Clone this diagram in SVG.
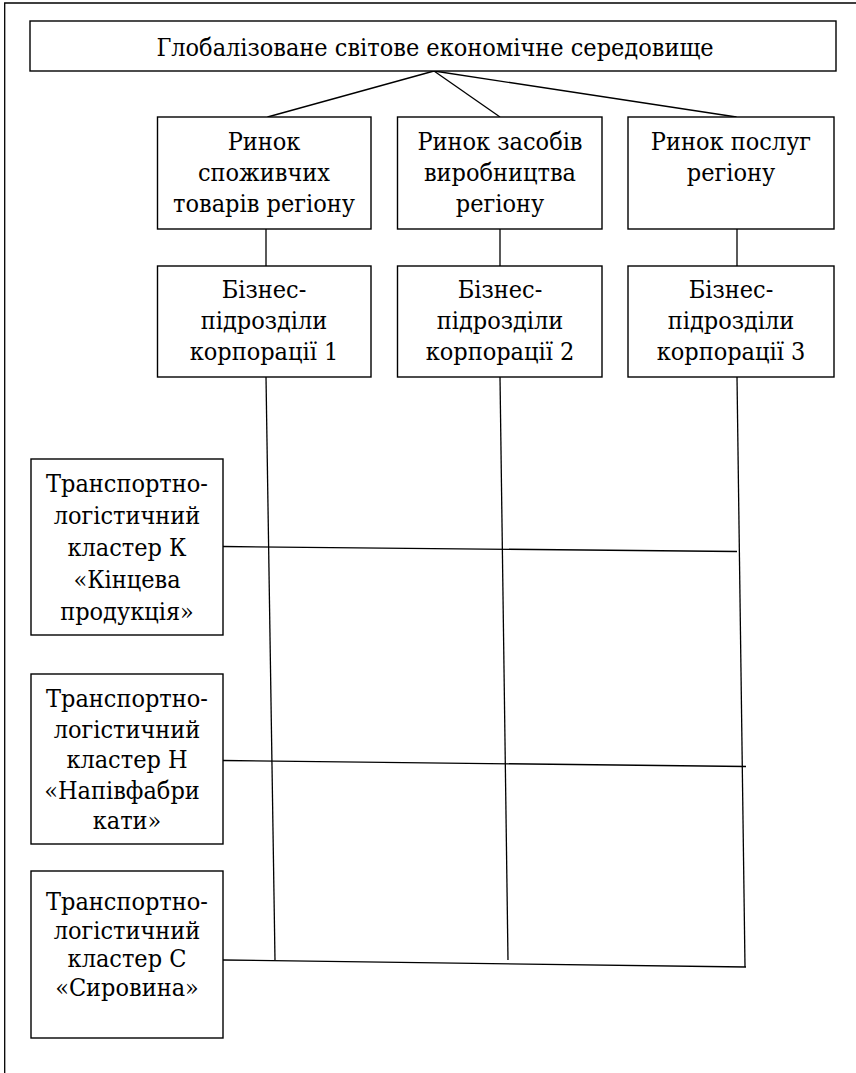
<svg xmlns="http://www.w3.org/2000/svg" width="856" height="1073" viewBox="0 0 856 1073">
<style>
.box{fill:#fff;stroke:#000;stroke-width:1.4}
.ln{fill:none;stroke:#000;stroke-width:1.3}
.t{font-size:25px;fill:#000;text-anchor:middle}
</style>
<rect width="856" height="1073" fill="#fff"/>
<path class="ln" d="M4.7,1073 V3 H856"/>
<g id="connectors">
<line class="ln" x1="434" y1="71" x2="267.5" y2="117"/>
<line class="ln" x1="434" y1="71" x2="500" y2="117"/>
<line class="ln" x1="434" y1="71" x2="736.5" y2="117"/>
<line class="ln" x1="266" y1="229" x2="266" y2="266"/>
<line class="ln" x1="500" y1="229" x2="500" y2="266"/>
<line class="ln" x1="737" y1="229" x2="737" y2="266"/>
<line class="ln" x1="266" y1="377" x2="275" y2="960"/>
<line class="ln" x1="500" y1="377" x2="508" y2="960"/>
<line class="ln" x1="737" y1="377" x2="745" y2="967"/>
<line class="ln" x1="223" y1="546.5" x2="737" y2="551.5"/>
<line class="ln" x1="223" y1="760.5" x2="746" y2="766.5"/>
<line class="ln" x1="223" y1="960" x2="746" y2="967"/>
</g>
<g class="t" font-family="'DejaVu Serif Condensed', 'DejaVu Serif', 'Liberation Serif', serif">
<g id="global">
<rect class="box" x="30" y="21" width="806" height="50"/>
<text x="435" y="56">Глобалізоване світове економічне середовище</text>
</g>
<g id="market1">
<rect class="box" x="157.5" y="117" width="213.5" height="112"/>
<text x="264" y="150">Ринок</text>
<text x="264" y="181">споживчих</text>
<text x="264" y="212">товарів регіону</text>
</g>
<g id="market2">
<rect class="box" x="397.5" y="117" width="204.5" height="112"/>
<text x="500" y="150">Ринок засобів</text>
<text x="500" y="181">виробництва</text>
<text x="500" y="212">регіону</text>
</g>
<g id="market3">
<rect class="box" x="628" y="117" width="206" height="112"/>
<text x="731" y="150">Ринок послуг</text>
<text x="731" y="181">регіону</text>
</g>
<g id="corp1">
<rect class="box" x="157.5" y="266" width="213.5" height="111"/>
<text x="264" y="298">Бізнес-</text>
<text x="264" y="329">підрозділи</text>
<text x="264" y="360">корпорації 1</text>
</g>
<g id="corp2">
<rect class="box" x="397.5" y="266" width="204.5" height="111"/>
<text x="500" y="298">Бізнес-</text>
<text x="500" y="329">підрозділи</text>
<text x="500" y="360">корпорації 2</text>
</g>
<g id="corp3">
<rect class="box" x="628" y="266" width="206" height="111"/>
<text x="731" y="298">Бізнес-</text>
<text x="731" y="329">підрозділи</text>
<text x="731" y="360">корпорації 3</text>
</g>
<g id="clusterK">
<rect class="box" x="31" y="459" width="192" height="176"/>
<text x="127" y="492">Транспортно-</text>
<text x="127" y="524">логістичний</text>
<text x="127" y="556">кластер К</text>
<text x="127" y="588">«Кінцева</text>
<text x="127" y="620">продукція»</text>
</g>
<g id="clusterH">
<rect class="box" x="31" y="674" width="192" height="170"/>
<text x="127" y="707">Транспортно-</text>
<text x="127" y="737.5">логістичний</text>
<text x="127" y="768">кластер Н</text>
<text x="122" y="798.5">«Напівфабри</text>
<text x="127" y="829">кати»</text>
</g>
<g id="clusterC">
<rect class="box" x="31" y="871" width="192" height="167"/>
<text x="127" y="910">Транспортно-</text>
<text x="127" y="938.5">логістичний</text>
<text x="127" y="967">кластер С</text>
<text x="127" y="996">«Сировина»</text>
</g>
</g>
</svg>
